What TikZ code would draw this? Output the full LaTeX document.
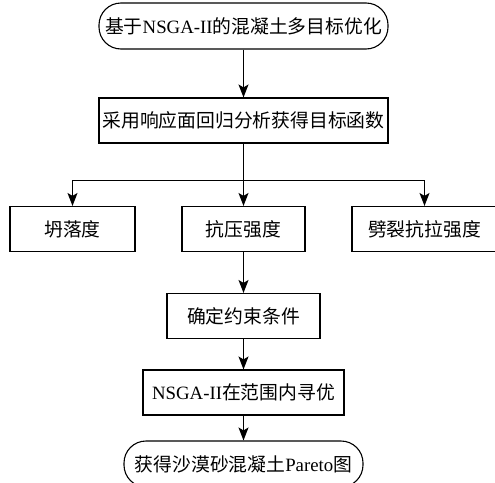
\documentclass[tikz,border=0pt]{standalone}
\usepackage{fontspec}
\setmainfont{Liberation Serif}
\newfontfamily\cjk{Noto Sans CJK SC}
\usetikzlibrary{arrows.meta}

\begin{document}
\begin{tikzpicture}[x=1pt,y=1pt,
	every node/.style={font=\fontsize{18.8}{22}\selectfont, inner sep=0pt, align=center},
	box/.style={draw, line width=1.1pt, minimum height=45pt},
	term/.style={box, minimum height=46pt, rounded corners=22pt},
	arrow/.style={-{Stealth[length=13pt,width=10pt,inset=3pt]}, line width=1.2pt}]
\useasboundingbox (0,0) rectangle (495,-482);

\node(goal)	[term, minimum width=289pt] at (243.5,-26)	{{\cjk 基于}NSGA-II{\cjk 的混凝土多目标优化}};
\node(fit)	[box, minimum width=289pt, below of=goal, node distance=94.5pt]	{\cjk 采用响应面回归分析获得目标函数};

\node(compress)	[box, minimum width=123pt, below of=fit, node distance=108.5pt]	{\cjk 抗压强度};
\node(slump)	[box, minimum width=125pt, left of=compress, node distance=171pt]	{\cjk 坍落度};
\node(tensile)	[box, minimum width=145pt, right of=compress, node distance=181pt]	{\cjk 劈裂抗拉强度};

\node(constraint)	[box, minimum width=153pt, below of=compress, node distance=87pt]	{\cjk 确定约束条件};
\node(search)	[box, minimum width=201pt, below of=constraint, node distance=76.5pt]	{NSGA-II{\cjk 在范围内寻优}};
\node(pareto)	[term, minimum width=239pt, below of=search, node distance=71.5pt]	{{\cjk 获得沙漠砂混凝土}Pareto{\cjk 图}};

\draw [arrow] (goal) -- (fit);

\coordinate (branch) at ([yshift=-37pt]fit.south);
\draw [line width=1.2pt] (fit) -- (branch);
\foreach \x in {slump,compress,tensile} {
	\draw [arrow] (branch) -| (\x); }

\foreach \a/\b in {compress/constraint,constraint/search,search/pareto} {
	\draw [arrow] (\a) -- (\b); }

\end{tikzpicture}
\end{document}
